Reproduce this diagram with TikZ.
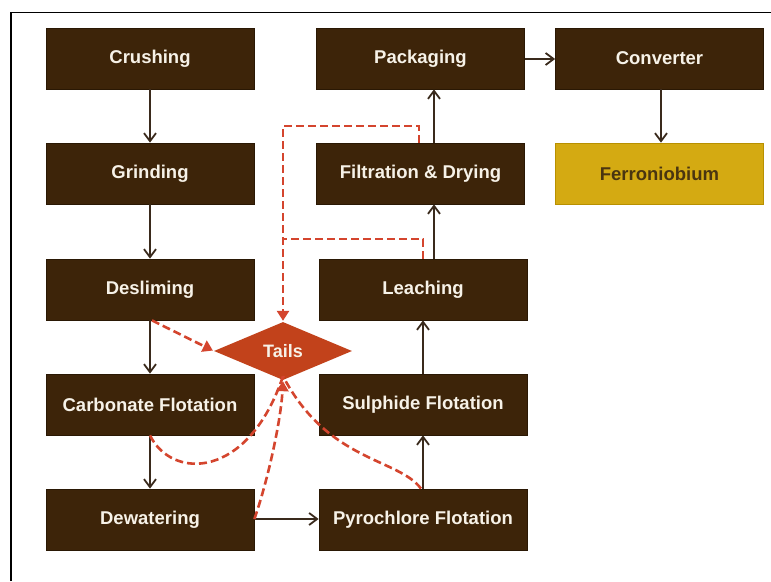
\documentclass[tikz,border=0pt]{standalone}
\usepackage{fontspec}
\setmainfont{Liberation Sans}
\usetikzlibrary{shapes.geometric,arrows.meta}
\definecolor{boxbrown}{HTML}{3D2409}
\definecolor{boxedge}{HTML}{2A1804}
\definecolor{arrbrown}{HTML}{3A2A1C}
\definecolor{tailred}{HTML}{D4452E}
\definecolor{diamondfill}{HTML}{C2421B}
\definecolor{goldfill}{HTML}{D4AA12}
\definecolor{goldedge}{HTML}{B89000}
\definecolor{goldtext}{HTML}{4A3510}
\definecolor{boxtext}{HTML}{F7F2E8}
\tikzset{
  x=1pt, y=-1pt,
  procbox/.style={rectangle, draw=boxedge, line width=0.8pt, fill=boxbrown,
    minimum width=208pt, minimum height=61pt, inner sep=0pt,
    text=boxtext, font=\fontsize{18.5}{20}\selectfont\bfseries},
  goldbox/.style={procbox, fill=goldfill, draw=goldedge, text=goldtext},
  tailsbox/.style={diamond, fill=diamondfill, draw=none, inner sep=0pt, aspect=2.4,
    minimum width=138pt, minimum height=58pt,
    text=boxtext, font=\fontsize{18}{20}\selectfont\bfseries},
  flow/.style={draw=arrbrown, line width=1.8pt, -{Straight Barb[length=8pt,width=12pt,line width=1.8pt]}},
  tailline/.style={draw=tailred, line width=2.6pt, dash pattern=on 8pt off 4pt},
  tailarrow/.style={tailline, -{Triangle[length=10pt,width=12pt,sep=1pt]}},
}
\begin{document}
\begin{tikzpicture}
\useasboundingbox (0,0) rectangle (771,581);
\fill[white] (0,0) rectangle (771,581);
\draw[black, line width=1.4pt] (11,581) -- (11,12.5) -- (771,12.5);

\node[procbox] (crush) at (150,58.5) {Crushing};
\node[procbox] (grind) at (150,173.5) {Grinding};
\node[procbox] (desl) at (150,289.5) {Desliming};
\node[procbox] (carb) at (150,404.5) {Carbonate Flotation};
\node[procbox] (dewat) at (150,519.5) {Dewatering};

\node[procbox] (pack) at (420.5,58.5) {Packaging};
\node[procbox] (filt) at (420.5,173.5) {Filtration \& Drying};
\node[procbox] (leach) at (423,289.5) {Leaching};
\node[procbox] (sulph) at (423,404.5) {Sulphide Flotation};
\node[procbox] (pyro) at (423,519.5) {Pyrochlore Flotation};

\node[procbox] (conv) at (659.5,58.5) {Converter};
\node[goldbox] (ferro) at (659.5,173.5) {Ferroniobium};

\node[tailsbox] (tails) at (283,351) {Tails};

% main flow
\draw[flow] (crush) -- (grind);
\draw[flow] (grind) -- (desl);
\draw[flow] (desl) -- (carb);
\draw[flow] (carb) -- (dewat);
\draw[flow] (dewat.east |- 0,519) -- (pyro.west |- 0,519);
\draw[flow] (pyro) -- (sulph);
\draw[flow] (sulph) -- (leach);
\draw[flow] (leach.north -| 434,0) -- (filt.south -| 434,0);
\draw[flow] (filt.north -| 434,0) -- (pack.south -| 434,0);
\draw[flow] (pack.east |- 0,59) -- (conv.west |- 0,59);
\draw[flow] (conv.south -| 661,0) -- (ferro.north -| 661,0);

% tails lines
\coordinate (loopA) at (419,126);
\coordinate (loopB) at (423,239);
\coordinate (joinB) at (283.5,239);
\draw[tailarrow] (filt.north -| loopA) -- (loopA) -| (tails.north);
\draw[tailline] (leach.north -| loopB) -- (loopB) -- (joinB);
\draw[tailarrow] ([xshift=2pt]desl.south) -- (tails.west);
\draw[tailline] (carb.south) .. controls (172,480) and (248,480) .. ([yshift=4pt]tails.south);
\draw[tailline] (pyro.north -| 421,0) .. controls (398,458) and (328,462) .. ([yshift=4pt]tails.south);
\draw[tailarrow] (dewat.east |- 0,519) .. controls (268,480) and (281,420) .. (tails.south);
\end{tikzpicture}
\end{document}
